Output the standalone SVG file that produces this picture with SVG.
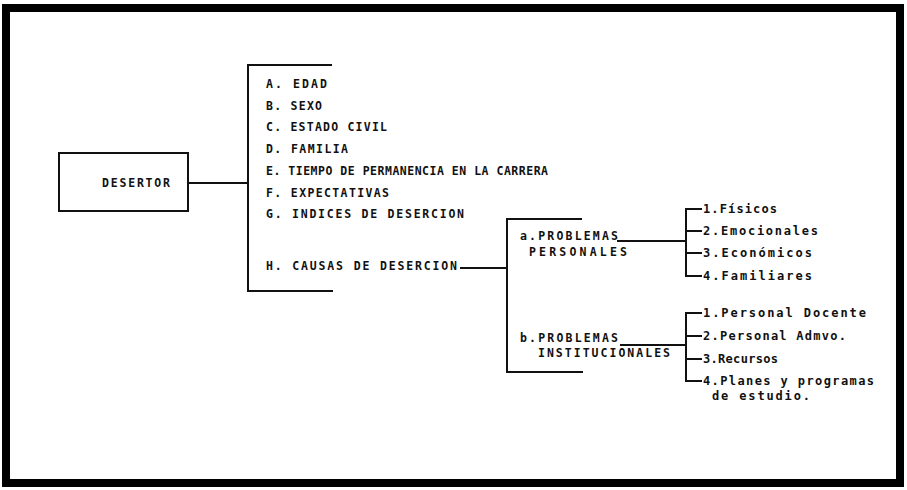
<svg xmlns="http://www.w3.org/2000/svg" width="907" height="490" viewBox="0 0 907 490">
<style>
.t{font-family:"DejaVu Sans Mono","Liberation Mono",monospace;font-weight:bold;font-size:11.5px;fill:#111}
.s{font-family:"DejaVu Sans Mono","Liberation Mono",monospace;font-weight:bold;font-size:12px;fill:#111}
.ln{stroke:#111;stroke-width:2;fill:none}
</style>
<rect x="0" y="0" width="907" height="490" fill="#fff"/>
<rect x="6" y="8" width="894" height="475" fill="none" stroke="#000" stroke-width="8"/>
<g id="connectors" class="ln">
<line x1="188" y1="183" x2="248" y2="183"/>
<polyline points="332,65 248,65 248,291 333,291"/>
<line x1="460" y1="268" x2="507" y2="268"/>
<polyline points="582,219 507,219 507,372 583,372"/>
<line x1="617" y1="241" x2="686" y2="241"/>
<polyline points="702,209 686,209 686,276 702,276"/>
<line x1="686" y1="231" x2="702" y2="231"/>
<line x1="686" y1="253" x2="702" y2="253"/>
<line x1="620" y1="345" x2="686" y2="345"/>
<polyline points="702,313 686,313 686,381 702,381"/>
<line x1="686" y1="336" x2="702" y2="336"/>
<line x1="686" y1="359" x2="702" y2="359"/>
</g>
<g id="desertor">
<rect x="59" y="153" width="129" height="58" class="ln"/>
<text class="t" x="102" y="187" textLength="68" lengthAdjust="spacing">DESERTOR</text>
</g>
<g id="atributos">
<text class="t" x="266" y="88" textLength="61" lengthAdjust="spacing">A. EDAD</text>
<text class="t" x="266" y="110" textLength="56" lengthAdjust="spacing">B. SEXO</text>
<text class="t" x="266" y="131" textLength="121" lengthAdjust="spacing">C. ESTADO CIVIL</text>
<text class="t" x="266" y="153" textLength="82" lengthAdjust="spacing">D. FAMILIA</text>
<text class="t" x="266" y="175" textLength="282" lengthAdjust="spacing">E. TIEMPO DE PERMANENCIA EN LA CARRERA</text>
<text class="t" x="266" y="197" textLength="123" lengthAdjust="spacing">F. EXPECTATIVAS</text>
<text class="t" x="266" y="218" textLength="198" lengthAdjust="spacing">G. INDICES DE DESERCION</text>
<text class="t" x="266" y="270" textLength="191" lengthAdjust="spacing">H. CAUSAS DE DESERCION</text>
</g>
<g id="personales">
<text class="t" x="520" y="240" textLength="98" lengthAdjust="spacing">a.PROBLEMAS</text>
<text class="t" x="529" y="256" textLength="98" lengthAdjust="spacing">PERSONALES</text>
</g>
<g id="institucionales">
<text class="t" x="520" y="342" textLength="98" lengthAdjust="spacing">b.PROBLEMAS</text>
<text class="t" x="538" y="357" textLength="132" lengthAdjust="spacing">INSTITUCIONALES</text>
</g>
<g id="causas-personales">
<text class="s" x="703" y="213" textLength="74" lengthAdjust="spacing">1.Físicos</text>
<text class="s" x="703" y="235" textLength="115" lengthAdjust="spacing">2.Emocionales</text>
<text class="s" x="703" y="257" textLength="109" lengthAdjust="spacing">3.Económicos</text>
<text class="s" x="703" y="280" textLength="109" lengthAdjust="spacing">4.Familiares</text>
</g>
<g id="causas-institucionales">
<text class="s" x="703" y="317" textLength="163" lengthAdjust="spacing">1.Personal Docente</text>
<text class="s" x="703" y="340" textLength="143" lengthAdjust="spacing">2.Personal Admvo.</text>
<text class="s" x="703" y="363" textLength="75" lengthAdjust="spacing">3.Recursos</text>
<text class="s" x="703" y="385" textLength="171" lengthAdjust="spacing">4.Planes y programas</text>
<text class="s" x="712" y="400" textLength="98" lengthAdjust="spacing">de estudio.</text>
</g>
</svg>
